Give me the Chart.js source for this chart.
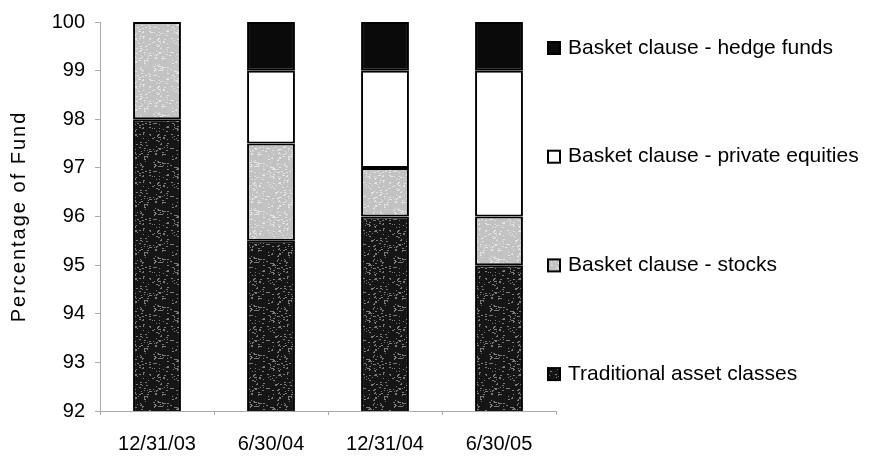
<!DOCTYPE html>
<html>
<head>
<meta charset="utf-8">
<script src="https://cdn.jsdelivr.net/npm/chart.js@4"></script>
<style>
  html, body { margin: 0; padding: 0; background: #fff; }
  #wrap { width: 870px; height: 460px; }
</style>
</head>
<body>
<div id="wrap"><canvas id="fundChart" width="870" height="460"></canvas></div>
<script>
// data
const categories = ['12/31/03', '6/30/04', '12/31/04', '6/30/05'];
const traditional = [98.0, 95.5, 96.0, 95.0];
const stocks = [2.0, 2.0, 1.0, 1.0];
const privateEquities = [0, 1.5, 2.0, 3.0];
const hedgeFunds = [0, 1.0, 1.0, 1.0];
const yTicks = [92, 93, 94, 95, 96, 97, 98, 99, 100];

const FONT = "'Liberation Sans', Arial, sans-serif";

// speckled fill like the scanned original (deterministic noise)
function speckle(base, dot, count) {
  const c = document.createElement('canvas');
  c.width = 48; c.height = 48;
  const g = c.getContext('2d');
  g.fillStyle = base;
  g.fillRect(0, 0, 48, 48);
  let s = 12345;
  const rnd = () => { s = (s * 1103515245 + 12345) % 2147483648; return s / 2147483648; };
  g.fillStyle = dot;
  for (let i = 0; i < count; i++) {
    g.fillRect(Math.floor(rnd() * 48), Math.floor(rnd() * 48), 1 + Math.floor(rnd() * 2), 1);
  }
  return g.createPattern(c, 'repeat');
}

const darkFill = speckle('#151515', '#7a7a7a', 200);
const greyFill = speckle('#c2c2c2', '#e4e4e4', 220);

// legend on the right, top item first
const legendRight = {
  id: 'legendRight',
  afterDraw(chart) {
    const ctx = chart.ctx;
    const area = chart.chartArea;
    const items = chart.data.datasets.slice().reverse();
    ctx.save();
    ctx.font = '21px ' + FONT;
    ctx.textBaseline = 'middle';
    items.forEach((ds, i) => {
      const y = area.top + 26 + i * 108.7;
      const x = area.right - 8;
      ctx.fillStyle = ds.backgroundColor;
      ctx.fillRect(x, y - 6, 12, 12);
      ctx.lineWidth = 2;
      ctx.strokeStyle = '#000';
      ctx.strokeRect(x, y - 6, 12, 12);
      ctx.fillStyle = '#000';
      ctx.fillText(ds.label, x + 20, y);
    });
    // y axis title with letter spacing
    ctx.translate(19, (area.top + area.bottom) / 2);
    ctx.rotate(-Math.PI / 2);
    ctx.font = '20px ' + FONT;
    ctx.letterSpacing = '2px';
    ctx.textAlign = 'center';
    ctx.fillText('Percentage of Fund', 0, 0);
    ctx.restore();
  }
};

const barStyle = {
  borderColor: '#000',
  borderWidth: 2,
  borderSkipped: false,
  barPercentage: 0.42,
  categoryPercentage: 1.0
};

new Chart(document.getElementById('fundChart'), {
  type: 'bar',
  data: {
    labels: categories,
    datasets: [
      Object.assign({ label: 'Traditional asset classes', data: traditional, backgroundColor: darkFill }, barStyle),
      Object.assign({ label: 'Basket clause - stocks', data: stocks, backgroundColor: greyFill }, barStyle),
      Object.assign({ label: 'Basket clause - private equities', data: privateEquities, backgroundColor: '#ffffff' }, barStyle),
      Object.assign({ label: 'Basket clause - hedge funds', data: hedgeFunds, backgroundColor: '#0a0a0a' }, barStyle)
    ]
  },
  options: {
    responsive: false,
    animation: false,
    layout: { padding: { top: 21, right: 314, bottom: 0, left: 0 } },
    plugins: {
      legend: { display: false },
      tooltip: { enabled: false }
    },
    scales: {
      x: {
        stacked: true,
        afterFit(s) { s.height = 49; },
        grid: { drawOnChartArea: false, offset: true, tickLength: 4, color: '#aaa' },
        border: { color: '#aaa', width: 1 },
        ticks: { color: '#000', font: { family: FONT, size: 20 }, padding: 17 }
      },
      y: {
        stacked: true,
        min: 92,
        max: 100,
        afterFit(s) { s.width = 100; },
        afterBuildTicks(s) { s.ticks = yTicks.map(v => ({ value: v })); },
        grid: { drawOnChartArea: false, tickLength: 5, color: '#aaa' },
        border: { color: '#aaa', width: 1 },
        ticks: { color: '#000', font: { family: FONT, size: 20 }, padding: 10 }
      }
    }
  },
  plugins: [legendRight]
});
</script>
</body>
</html>
